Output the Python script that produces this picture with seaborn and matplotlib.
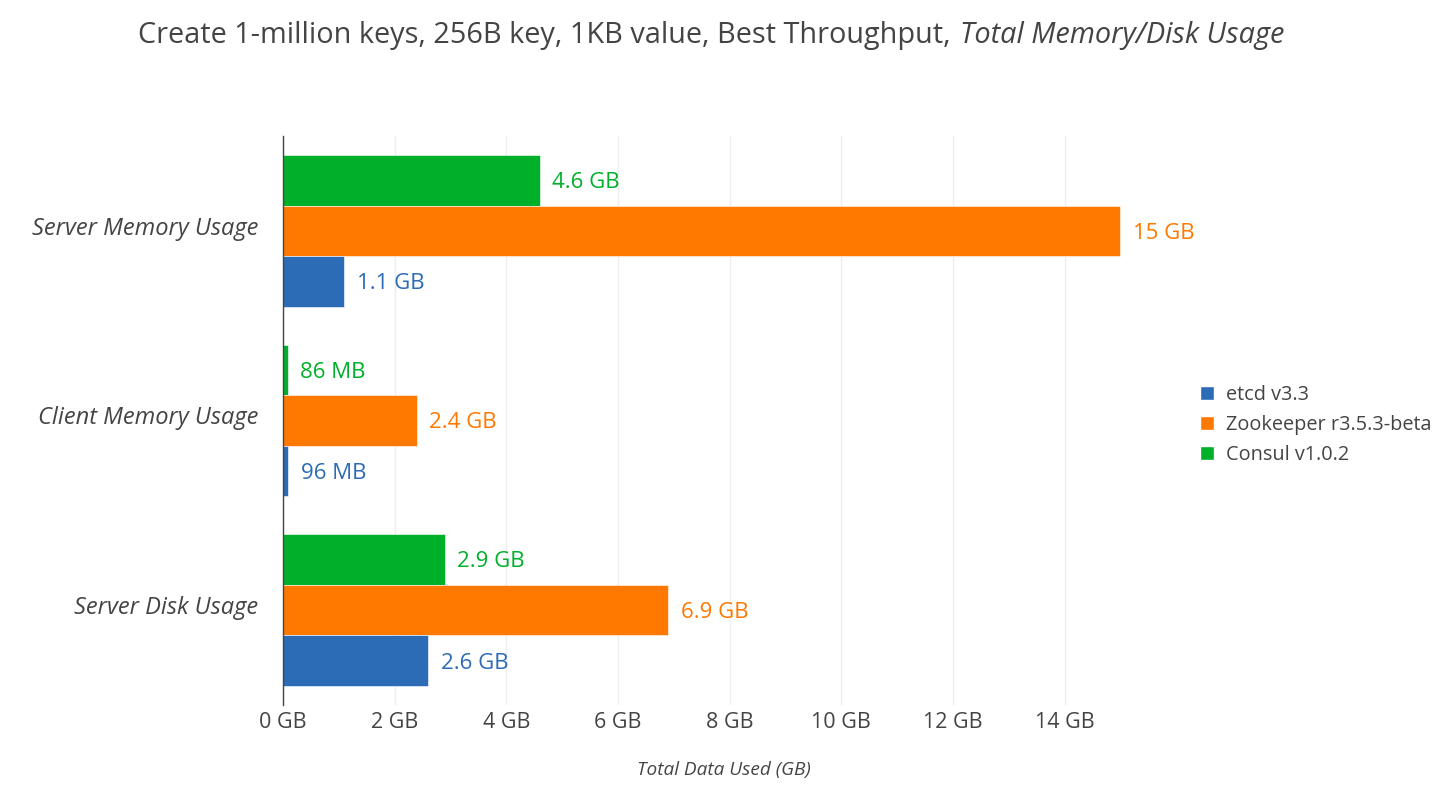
import pandas as pd
import seaborn as sns
import matplotlib.pyplot as plt
from matplotlib.patches import Patch
from matplotlib.transforms import ScaledTranslation

# Datos
categorias = ["Server Memory Usage", "Client Memory Usage", "Server Disk Usage"]
sistemas = ["etcd v3.3", "Zookeeper r3.5.3-beta", "Consul v1.0.2"]
etcd = [1.1, 0.096, 2.6]
zookeeper = [15.0, 2.4, 6.9]
consul = [4.6, 0.086, 2.9]
etiquetas = {
    "etcd v3.3": ["1.1 GB", "96 MB", "2.6 GB"],
    "Zookeeper r3.5.3-beta": ["15 GB", "2.4 GB", "6.9 GB"],
    "Consul v1.0.2": ["4.6 GB", "86 MB", "2.9 GB"],
}
colores = {"etcd v3.3": "#2c6bb5", "Zookeeper r3.5.3-beta": "#ff7800", "Consul v1.0.2": "#00b02a"}
xticks = [0, 2, 4, 6, 8, 10, 12, 14]

df = pd.DataFrame({
    "categoria": categorias * 3,
    "sistema": [s for s in sistemas for _ in categorias],
    "valor": etcd + zookeeper + consul,
})

sns.set_style("white")
plt.rcParams["font.family"] = ["Open Sans", "DejaVu Sans"]
texto = "#444444"

fig = plt.figure(figsize=(14.46, 7.86), dpi=100)
ax = fig.add_axes([283 / 1446, 1 - 705 / 786, (1165 - 283) / 1446, (705 - 136) / 786])

# el orden del hue va de arriba hacia abajo, por eso Consul primero
orden_hue = ["Consul v1.0.2", "Zookeeper r3.5.3-beta", "etcd v3.3"]
sns.barplot(data=df, y="categoria", x="valor", hue="sistema", hue_order=orden_hue,
            order=categorias, palette=colores, orient="h", width=0.8, ax=ax,
            legend=False, saturation=1, edgecolor="white", linewidth=0.4)

for cont, s in zip(ax.containers, orden_hue):
    textos = ax.bar_label(cont, labels=etiquetas[s], padding=9, color=colores[s], fontsize=16)
    # bajar un poquito las etiquetas
    for t in textos:
        dx, dy = t.xyann
        t.xyann = (dx, dy - 1.7)

ax.set_xlim(0, 15.8)
ax.set_ylim(2.5, -0.5)
ax.set_xticks(xticks)
ax.set_xticklabels([f"{t} GB" for t in xticks], fontsize=15.5, color=texto)
ax.set_yticks(range(3))
ax.set_yticklabels(categorias, fontsize=17, color=texto, style="italic")
ax.tick_params(axis="x", length=0, pad=5)
ax.tick_params(axis="y", length=0, pad=18)
# las etiquetas del eje y van un poco por encima del centro
subir = ScaledTranslation(0, 5 / 100, fig.dpi_scale_trans)
for lab in ax.get_yticklabels():
    lab.set_transform(lab.get_transform() + subir)
ax.grid(axis="x", color="#eeeeee", linewidth=1)
ax.set_axisbelow(True)
for lado in ["top", "right", "bottom"]:
    ax.spines[lado].set_visible(False)
ax.spines["left"].set_color(texto)
ax.spines["left"].set_linewidth(1)
ax.set_ylabel("")
ax.set_xlabel("Total Data Used (GB)", fontsize=13.7, color=texto, style="italic", labelpad=20)

# Titulo con parte en cursiva
fig.text(951 / 1446, 1 - 35 / 786, "Create 1-million keys, 256B key, 1KB value, Best Throughput,",
         ha="right", va="center", fontsize=20.75, color=texto)
fig.text(960 / 1446, 1 - 35 / 786, "Total Memory/Disk Usage",
         ha="left", va="center", fontsize=20.75, color=texto, style="italic")

handles = [Patch(facecolor=colores[s], label=s) for s in sistemas]
fig.legend(handles=handles, loc="center left", bbox_to_anchor=(1182 / 1446, 1 - 425 / 786),
           frameon=False, fontsize=14.3, labelcolor=texto, handlelength=0.7, handleheight=0.7,
           handletextpad=0.6, labelspacing=0.5)

fig.savefig("out.png", dpi=100)
